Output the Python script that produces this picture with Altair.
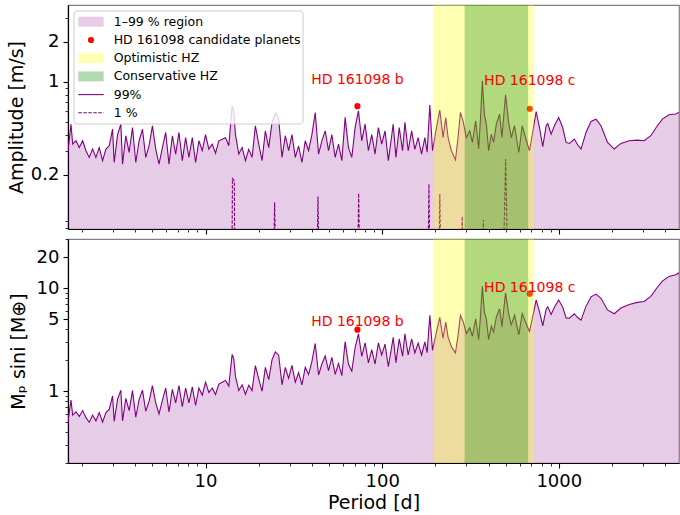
import altair as alt
import pandas as pd

FONT = "DejaVu Sans"
PURPLE = "#800080"

# ---------------- data ----------------
period_99 = [
    1.66, 1.730, 1.769, 1.847, 1.928, 2.015, 2.103, 2.195, 2.294, 2.394,
    2.500, 2.612, 2.728, 2.848, 2.975, 3.038, 3.176, 3.314, 3.388, 3.536,
    3.692, 3.858, 4.027, 4.204, 4.394, 4.586, 4.786, 5.002, 5.222, 5.451,
    5.697, 5.947, 6.208, 6.488, 6.772, 7.068, 7.388, 7.711, 8.050, 8.413,
    8.782, 9.167, 9.581, 10.00, 10.44, 10.91, 11.39, 11.89, 12.42,
    12.97, 13.54, 14.14, 14.44, 14.77, 15.42, 16.11, 16.82, 17.56, 18.34,
    19.15, 20.00, 20.89, 21.81, 22.78, 23.79, 24.84, 25.94, 27.09, 28.29,
    29.54, 30.85, 32.22, 33.64, 35.13, 36.69, 38.31, 40.01, 41.78, 43.63,
    45.56, 47.58, 49.69, 51.89, 54.19, 56.59, 59.09, 61.71, 64.44, 67.30,
    70.28, 73.39, 76.64, 80.03, 83.58, 87.28, 91.14, 95.18, 99.39, 103.8,
    108.4, 113.2,
    115.5, 119.6, 124.9, 130.5, 134.5, 140.4, 146.8, 153.1, 159.8, 167.1,
    174.4, 179.7, 186.1, 192.8,
    203.0, 211.9, 221.2, 229.1, 236.1, 246.7, 259.9, 268.9, 277.3, 286.9,
    299.9, 313.1, 324.3, 338.5, 351.9, 359.7, 369.2, 378.9, 388.9, 400.7,
    415.0, 427.6, 442.9, 462.3, 476.4, 499.6, 521.6, 538.1, 561.7, 593.9,
    620.8, 648.0, 682.4, 719.0, 744.6, 777.2, 811.4, 848.0, 865.9, 905.0,
    944.6, 998.7, 1052, 1100, 1148, 1225, 1279, 1336, 1426, 1522,
    1624, 1733, 1888, 2060, 2247, 2503, 2788, 3042, 3318, 3615,
    3858, 4209, 4592, 4793,
]
amp_99 = [
    0.294, 0.48, 0.34, 0.36, 0.32, 0.36, 0.303, 0.27, 0.312, 0.27,
    0.32, 0.255, 0.312, 0.33, 0.44, 0.247, 0.40, 0.48, 0.24, 0.393,
    0.294, 0.453, 0.247, 0.36, 0.44, 0.27, 0.33, 0.467, 0.312, 0.24,
    0.32, 0.416, 0.24, 0.393, 0.285, 0.416, 0.255, 0.38, 0.27, 0.38,
    0.247, 0.36, 0.303, 0.40, 0.312, 0.34, 0.29, 0.36, 0.37,
    0.38, 0.33, 0.66, 0.60, 0.40, 0.286, 0.32, 0.255, 0.31, 0.27,
    0.467, 0.34, 0.255, 0.428, 0.32, 0.495, 0.58, 0.53, 0.27, 0.393,
    0.303, 0.40, 0.27, 0.33, 0.247, 0.36, 0.303, 0.40, 0.588, 0.286,
    0.36, 0.428, 0.303, 0.40, 0.27, 0.34, 0.255, 0.54, 0.32, 0.27,
    0.453, 0.605, 0.36, 0.48, 0.303, 0.40, 0.286, 0.453, 0.34, 0.428,
    0.255, 0.393,
    0.48, 0.27, 0.453, 0.303, 0.495, 0.303, 0.428, 0.31, 0.38, 0.286,
    0.38, 0.295, 0.67, 0.303,
    0.453, 0.613, 0.381, 0.539, 0.381, 0.303, 0.258, 0.381, 0.588, 0.509,
    0.381, 0.428, 0.350, 0.509, 0.314, 0.509, 1.017, 0.572, 0.481, 0.303,
    0.404, 0.350, 0.481, 0.572, 0.381, 0.798, 0.481, 0.381, 0.467, 0.294,
    0.467, 0.381, 0.303, 0.453, 0.598, 0.453, 0.325, 0.467, 0.486, 0.404,
    0.467, 0.539, 0.453, 0.350, 0.344, 0.371, 0.336, 0.312, 0.416, 0.503,
    0.524, 0.467, 0.350, 0.312, 0.344, 0.360, 0.364, 0.360, 0.393, 0.467,
    0.524, 0.565, 0.572, 0.588,
]
# minimum-mass periodogram (lower panel), same periods as period_99
mass_99 = [
    0.494, 0.818, 0.584, 0.627, 0.566, 0.646, 0.551, 0.498, 0.584, 0.513,
    0.617, 0.499, 0.619, 0.664, 0.899, 0.508, 0.835, 1.02, 0.512, 0.85,
    0.645, 1.01, 0.558, 0.825, 1.02, 0.637, 0.79, 1.13, 0.769, 0.6,
    0.812, 1.07, 0.626, 1.04, 0.766, 1.13, 0.705, 1.07, 0.768, 1.1,
    0.724, 1.07, 0.914, 1.22, 0.968, 1.07, 0.927, 1.17, 1.22,
    1.27, 1.12, 2.27, 2.07, 1.39, 1.01, 1.15, 0.928, 1.14, 1.01,
    1.77, 1.31, 0.997, 1.7, 1.29, 2.02, 2.4, 2.23, 1.15, 1.7,
    1.33, 1.78, 1.22, 1.51, 1.15, 1.7, 1.45, 1.94, 2.9, 1.43,
    1.83, 2.2, 1.58, 2.12, 1.45, 1.85, 1.41, 3.03, 1.82, 1.56,
    2.65, 3.6, 2.17, 2.94, 1.88, 2.52, 1.83, 2.94, 2.24, 2.86,
    1.73, 2.7,
    3.32, 1.89, 3.22, 2.18, 3.6, 2.24, 3.21, 2.35, 2.93, 2.24,
    3.01, 2.36, 5.43, 2.49,
    3.78, 5.19, 3.27, 4.68, 3.34, 2.7, 2.34, 3.49, 5.44, 4.77,
    3.62, 4.13, 3.41, 5.04, 3.15, 5.14, 10.4, 5.88, 4.99, 3.17,
    4.28, 3.74, 5.21, 6.28, 4.23, 8.99, 5.5, 4.4, 5.47, 3.51,
    5.66, 4.68, 3.79, 5.76, 7.7, 5.91, 4.3, 6.28, 6.58, 5.55,
    6.51, 7.65, 6.54, 5.13, 5.11, 5.64, 5.18, 4.88, 6.65, 8.22,
    8.75, 7.97, 6.14, 5.64, 6.4, 6.94, 7.27, 7.41, 8.32, 10.2,
    11.7, 13.0, 13.5, 14.1,
]
one_pct_period = [1.66, 14.12, 14.2, 14.55, 14.62, 24.3, 24.6, 24.9, 42.8, 43.3,
                  43.8, 72.8, 73.6, 74.4, 182, 184, 186, 209.5, 212, 214.5,
                  281, 284, 287, 370, 374, 378, 487, 500, 512, 4793]
one_pct_amp = [0.05, 0.05, 0.187, 0.18, 0.05, 0.05, 0.124, 0.05, 0.05, 0.137,
               0.05, 0.05, 0.145, 0.05, 0.05, 0.17, 0.05, 0.05, 0.143, 0.05,
               0.05, 0.097, 0.05, 0.05, 0.091, 0.05, 0.05, 0.262, 0.05, 0.05]

planet_names = ["HD 161098 b", "HD 161098 c"]
planet_period = [72.4, 685.0]
planet_amp = [0.656, 0.627]
planet_mass = [3.95, 8.83]
label_amp = [1.04, 1.01]
label_mass = [4.72, 10.1]

hz_names = ["Optimistic HZ", "Conservative HZ"]
hz_start = [195.0, 293.0]
hz_end = [725.0, 671.0]

legend_labels = ["1\u201399 % region", "HD 161098 candidate planets", "Optimistic HZ",
                 "Conservative HZ", "99%", "1 %"]

# ---------------- scales & axes ----------------
W, H = 611, 224
x_scale = alt.Scale(type="log", domain=[1.664, 4793], nice=False)
top_scale = alt.Scale(type="log", domain=[0.078, 3.79], nice=False)
bot_scale = alt.Scale(type="log", domain=[0.2, 30], nice=False)

x_ticks = [2, 3, 4, 5, 6, 7, 8, 9, 10, 20, 30, 40, 50, 60, 70, 80, 90, 100,
           200, 300, 400, 500, 600, 700, 800, 900, 1000, 2000, 3000, 4000]
top_ticks = [0.08, 0.09, 0.2, 0.3, 0.4, 0.5, 0.6, 0.7, 0.8, 0.9, 1, 2, 3]
bot_ticks = [0.2, 0.3, 0.4, 0.5, 0.6, 0.7, 0.8, 0.9, 1, 2, 3, 4, 5, 6, 7, 8, 9, 10, 20, 30]


def cond(vals, big, small):
    test = "indexof([" + ",".join(str(v) for v in vals) + "], datum.value) >= 0"
    return {"condition": {"test": test, "value": big}, "value": small}


def lab_expr(vals, texts):
    expr = "''"
    for v, t in reversed(list(zip(vals, texts))):
        expr = f"datum.value == {v} ? '{t}' : ({expr})"
    return expr


x_major = [10, 100, 1000]

x_axis_top = alt.Axis(values=x_ticks, labels=False, title=None,
                      tickSize=cond(x_major, 5, 3), tickWidth=cond(x_major, 1.1, 0.8))
x_axis_bot = alt.Axis(values=x_ticks, labelExpr=lab_expr(x_major, ["10", "100", "1000"]),
                      title="Period [d]", titlePadding=3, labelPadding=4, labelOverlap=False,
                      tickSize=cond(x_major, 5, 3), tickWidth=cond(x_major, 1.1, 0.8))
y_axis_top = alt.Axis(values=top_ticks, labelExpr=lab_expr([0.2, 1, 2], ["0.2", "1", "2"]),
                      title="Amplitude [m/s]", titleX=-46, titleY=H / 2, titleAlign="center",
                      titleBaseline="alphabetic", titleAngle=270, labelPadding=4,
                      labelOverlap=False,
                      tickSize=cond([0.2, 1, 2], 5, 3), tickWidth=cond([0.2, 1, 2], 1.1, 0.8))
y_axis_bot = alt.Axis(values=bot_ticks, labelExpr=lab_expr([1, 5, 10, 20], ["1", "5", "10", "20"]),
                      title="M\u209a sini [M\u2295]", titleX=-44, titleY=H / 2, titleAlign="center",
                      titleBaseline="alphabetic", titleAngle=270, labelPadding=4,
                      labelOverlap=False,
                      tickSize=cond([1, 5, 10, 20], 5, 3), tickWidth=cond([1, 5, 10, 20], 1.1, 0.8))


def panel(vals99, yscale, yaxis, xaxis, pvals, lvals, with_one, with_legend):
    X = alt.X("period:Q", scale=x_scale, axis=xaxis)
    Y = alt.Y("val:Q", scale=yscale, axis=yaxis)
    df99 = pd.DataFrame({"period": period_99, "val": vals99})
    layers = []
    layers.append(alt.Chart(df99).mark_area(color=PURPLE, opacity=0.2, clip=True)
                  .encode(x=X, y=Y, y2=alt.datum(0.01)))
    layers.append(alt.Chart(df99).mark_line(color=PURPLE, strokeWidth=1.1, clip=True)
                  .encode(x=X, y=Y))
    if with_one:
        df1 = pd.DataFrame({"period": one_pct_period, "val": one_pct_amp})
        layers.append(alt.Chart(df1).mark_line(color=PURPLE, strokeWidth=1.1, clip=True,
                                               strokeDash=[3.5, 1.5])
                      .encode(x=X, y=Y))
    dfp = pd.DataFrame({"period": planet_period, "val": pvals, "name": planet_names})
    layers.append(alt.Chart(dfp).mark_circle(color="red", size=38, opacity=1).encode(x=X, y=Y))
    dfh = pd.DataFrame({"period": hz_start, "period_end": hz_end, "name": hz_names})
    layers.append(alt.Chart(dfh).mark_rect(opacity=0.3).encode(
        x=X, x2="period_end:Q",
        color=alt.Color("name:N", scale=alt.Scale(domain=hz_names, range=["yellow", "green"]),
                        legend=None)))
    dfl = pd.DataFrame({"period": planet_period, "val": lvals, "name": planet_names})
    layers.append(alt.Chart(dfl).mark_text(color="red", fontSize=14, font=FONT,
                                           align="center", baseline="middle")
                  .encode(x=X, y=Y, text="name:N"))
    if with_legend:
        one = pd.DataFrame({"k": [0]})
        rows = [16.7, 35.0, 53.2, 71.4, 89.6, 107.8]
        layers.append(alt.Chart(one).mark_rect(fill="white", fillOpacity=0.8, stroke="#cccccc",
                                               strokeWidth=1, cornerRadius=3)
                      .encode(x=alt.value(6), x2=alt.value(235), y=alt.value(6), y2=alt.value(119)))
        for i, (color, op) in {0: (PURPLE, 0.2), 2: ("yellow", 0.3), 3: ("green", 0.3)}.items():
            layers.append(alt.Chart(one).mark_rect(color=color, opacity=op)
                          .encode(x=alt.value(10.3), x2=alt.value(35.7),
                                  y=alt.value(rows[i] - 5), y2=alt.value(rows[i] + 5)))
        layers.append(alt.Chart(one).mark_circle(color="red", size=38, opacity=1)
                      .encode(x=alt.value(23), y=alt.value(rows[1])))
        layers.append(alt.Chart(one).mark_rule(color=PURPLE, strokeWidth=1.1)
                      .encode(x=alt.value(10.3), x2=alt.value(35.7), y=alt.value(rows[4])))
        layers.append(alt.Chart(one).mark_rule(color=PURPLE, strokeWidth=1.1, strokeDash=[3.5, 1.5])
                      .encode(x=alt.value(10.3), x2=alt.value(35.7), y=alt.value(rows[5])))
        for i, lab in enumerate(legend_labels):
            layers.append(alt.Chart(one).mark_text(text=lab, align="left", baseline="middle",
                                                   fontSize=12.5, font=FONT, color="black")
                          .encode(x=alt.value(45.7), y=alt.value(rows[i])))
    return alt.layer(*layers).properties(width=W, height=H)


top = panel(amp_99, top_scale, y_axis_top, x_axis_top, planet_amp, label_amp, True, True)
bottom = panel(mass_99, bot_scale, y_axis_bot, x_axis_bot, planet_mass, label_mass, False, False)

chart = (
    alt.vconcat(top, bottom, spacing=10, bounds="flush")
    .properties(padding={"left": 6, "top": 4, "right": 0, "bottom": 2})
    .configure(font=FONT)
    .configure_view(stroke="#808080", strokeWidth=1.2)
    .configure_axis(domainColor="black", domainWidth=1.2, tickColor="black",
                    labelColor="black", titleColor="black", grid=False,
                    labelFont=FONT, titleFont=FONT, labelFontSize=18, titleFontSize=19,
                    titleFontWeight="normal")
)
chart.save("out.html", embed_options={"renderer": "svg", "actions": False})
